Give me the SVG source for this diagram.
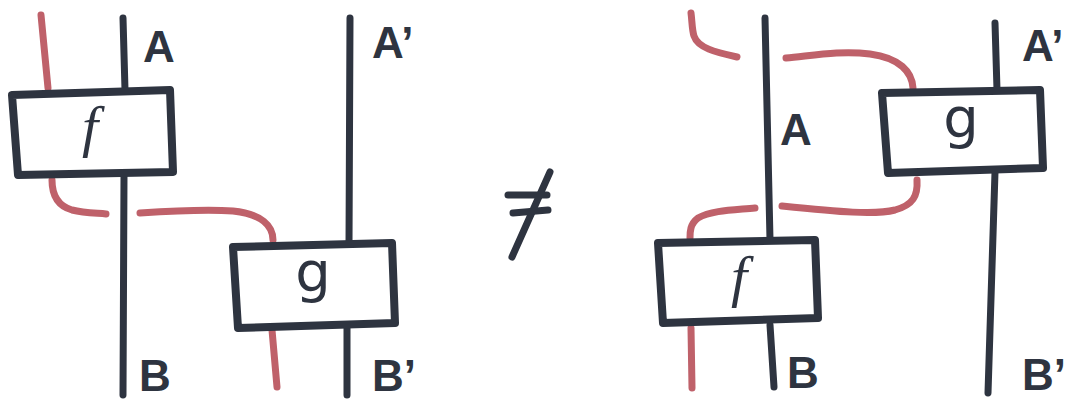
<svg xmlns="http://www.w3.org/2000/svg" width="1070" height="399" viewBox="0 0 1070 399">
<style>
.w{fill:none;stroke:#2e3440;stroke-width:7;stroke-linecap:round;stroke-linejoin:round}
.r{fill:none;stroke:#bf616a;stroke-width:7;stroke-linecap:round;stroke-linejoin:round}
.box{fill:#ffffff;stroke:#2e3440;stroke-width:8;stroke-linejoin:round}
.lbl{font-family:"Liberation Sans",Arial,sans-serif;font-weight:bold;font-size:44px;fill:#2e3440}
.fn{font-family:"Liberation Serif","Times New Roman",serif;font-style:italic;font-size:58px;fill:#2e3440;text-anchor:middle}
.gn{font-family:"DejaVu Sans",sans-serif;font-size:56px;fill:#2e3440;text-anchor:middle}
</style>
<rect width="1070" height="399" fill="#ffffff"/>
<g id="connectors">
  <!-- left diagram -->
  <path class="r" d="M41,15 L48,88"/>
  <path class="w" d="M123,18 L125,90"/>
  <path class="w" d="M124,176 L123,395"/>
  <path class="r" d="M52,180 C52,196 58,206 72,210 C84,213 95,213 106,214"/>
  <path class="r" d="M140,213 C170,211 205,209 233,211 C262,214 273,226 273,240"/>
  <path class="w" d="M350,18 L349,244"/>
  <path class="r" d="M272,330 L277,387"/>
  <path class="w" d="M347,328 L347,395"/>
  <!-- right diagram -->
  <path class="r" d="M691,13 C692,20 692,30 694,36 C698,48 715,52 737,57"/>
  <path class="w" d="M765,18 L770,240"/>
  <path class="r" d="M786,58 C810,56 840,50 870,54 C900,58 912,72 913,88"/>
  <path class="w" d="M995,23 L997,90"/>
  <path class="w" d="M995,172 L988,393"/>
  <path class="r" d="M917,180 C918,196 913,205 895,210 C875,215 840,212 782,206"/>
  <path class="r" d="M755,208 C735,210 712,210 698,218 C690,224 690,232 690,238"/>
  <path class="r" d="M691,328 L692,388"/>
  <path class="w" d="M770,325 L774,387"/>
</g>
<g id="f-left">
  <path class="box" d="M12,95 L170,90 L173,172 L18,175 Z"/>
  <text class="fn" x="90" y="146">f</text>
</g>
<g id="g-left">
  <path class="box" d="M233,247 L392,243 L395,323 L238,328 Z"/>
  <text class="gn" x="313" y="291">g</text>
</g>
<g id="f-right">
  <path class="box" d="M658,243 L815,240 L818,318 L663,323 Z"/>
  <text class="fn" x="739" y="296">f</text>
</g>
<g id="g-right">
  <path class="box" d="M882,93 L1040,90 L1043,168 L888,173 Z"/>
  <text class="gn" x="961" y="137">g</text>
</g>
<g id="labels">
  <text class="lbl" x="143" y="62">A</text>
  <text class="lbl" x="372" y="58">A’</text>
  <text class="lbl" x="139" y="391">B</text>
  <text class="lbl" x="372" y="391">B’</text>
  <text class="lbl" x="780" y="145">A</text>
  <text class="lbl" x="1022" y="61">A’</text>
  <text class="lbl" x="787" y="388">B</text>
  <text class="lbl" x="1022" y="390">B’</text>
</g>
<g id="neq">
  <path class="w" d="M550,172 L512,257"/>
  <path class="w" d="M508,195 L547,195"/>
  <path class="w" d="M513,213 L548,210"/>
</g>
</svg>
